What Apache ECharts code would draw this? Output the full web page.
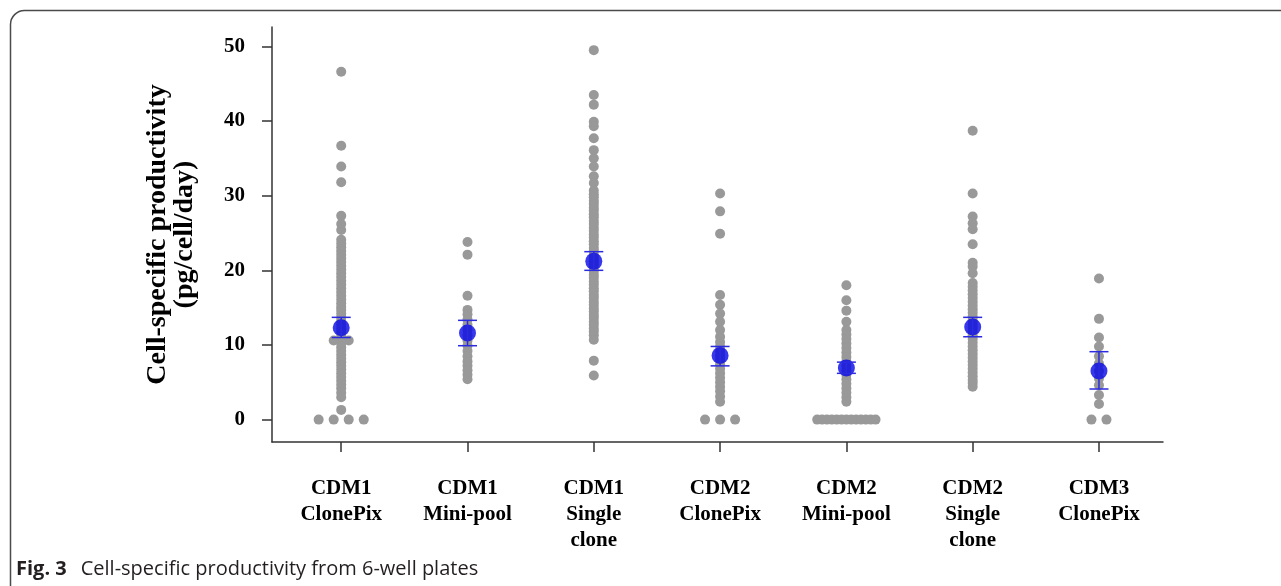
<!DOCTYPE html>
<html>
<head>
<meta charset="utf-8">
<script src="https://cdn.jsdelivr.net/npm/echarts@6/dist/echarts.min.js"></script>
<style>
html,body{margin:0;padding:0;background:#fff;}
#chart{width:1281px;height:586px;}
</style>
</head>
<body>
<div id="chart"></div>
<script>
// ---- data ----
const categories = ['CDM1\nClonePix','CDM1\nMini-pool','CDM1\nSingle\nclone','CDM2\nClonePix','CDM2\nMini-pool','CDM2\nSingle\nclone','CDM3\nClonePix'];
const yTicks = [0,10,20,30,40,50];

const cdm1ClonePix = [46.6,36.7,33.9,31.8,27.3,26.2,25.4,24.1,23.6,23.1,22.6,22.1,21.6,21.1,20.6,20.1,19.6,19.1,18.6,18.1,17.6,17.1,16.6,16.1,15.6,15.1,14.7,14.2,13.7,13.2,12.7,12.2,11.7,11.2,10.6,10.6,10.2,9.7,9.2,8.7,8.2,7.7,7.2,6.7,6.2,5.7,5.2,4.7,4.2,3.6,3.0,1.3,0,0,0,0];
const cdm1MiniPool = [23.8,22.1,16.6,14.7,14.1,13.4,12.7,12.0,11.3,10.6,9.9,9.2,8.5,7.8,7.2,6.6,6.0,5.4];
const cdm1Single = [49.5,43.5,42.2,39.9,39.3,37.7,36.1,35.0,33.9,32.6,31.7,30.7,30.2,29.8,29.3,28.9,28.4,28.0,27.5,27.1,26.6,26.2,25.7,25.3,24.8,24.4,23.9,23.5,23.0,22.6,22.1,21.7,21.2,20.8,20.3,19.9,19.4,19.0,18.5,18.1,17.6,17.2,16.7,16.3,15.8,15.4,14.9,14.5,14.0,13.6,13.1,12.7,12.2,11.8,11.3,10.7,7.9,5.9];
const cdm2ClonePix = [30.3,27.9,24.9,16.7,15.4,14.2,13.1,12.0,11.1,10.4,9.8,9.2,8.6,8.0,7.4,6.8,6.2,5.6,5.0,4.4,3.8,3.1,2.4,0,0,0];
const cdm2MiniPool = [18.0,16.0,14.6,13.1,12.0,11.4,10.8,10.2,9.6,9.0,8.4,7.8,7.2,6.6,6.0,5.4,4.8,4.2,3.6,3.0,2.4,0,0,0,0,0,0,0,0,0,0,0,0,0];
const cdm2Single = [38.7,30.3,27.2,26.3,25.5,23.5,21.0,20.5,19.6,18.3,17.8,17.3,16.8,16.3,15.8,15.3,14.8,14.3,13.8,13.3,12.8,12.3,11.8,11.3,10.8,10.3,9.8,9.3,8.8,8.3,7.8,7.3,6.8,6.3,5.8,5.3,4.9,4.4];
const cdm3ClonePix = [18.9,13.5,11.0,9.8,8.5,7.5,6.5,5.5,4.6,3.3,2.1,0,0];

const means = [12.3,11.6,21.2,8.6,6.9,12.4,6.5];
const upper = [13.7,13.3,22.5,9.8,7.7,13.7,9.1];
const lower = [11.0,9.9,20.0,7.2,6.2,11.1,4.1];

// ---- beeswarm spreading of identical values ----
const groups = [cdm1ClonePix,cdm1MiniPool,cdm1Single,cdm2ClonePix,cdm2MiniPool,cdm2Single,cdm3ClonePix];
const points = [];
groups.forEach((vals, gi) => {
  const counts = {};
  vals.forEach(v => { counts[v] = (counts[v] || 0) + 1; });
  const seen = {};
  vals.forEach(v => {
    const n = counts[v];
    const k = seen[v] || 0; seen[v] = k + 1;
    let off = 0;
    if (n > 1) {
      const step = Math.min(0.119, 0.462 / (n - 1));
      off = (k - (n - 1) / 2) * step;
    }
    points.push([gi + off, v]);
  });
});
const meanPts = means.map((m, i) => [i, m]);
const errData = means.map((m, i) => [i, lower[i], upper[i]]);

const chart = echarts.init(document.getElementById('chart'));
const serif = '"Liberation Serif", "Times New Roman", serif';
const sans = '"Open Sans", "Noto Sans", sans-serif';
chart.setOption({
  backgroundColor: '#ffffff',
  animation: false,
  title: {
    left: 11, top: 554,
    text: '{b|Fig. 3}{n|Cell-specific productivity from 6-well plates}',
    textStyle: {
      rich: {
        b: {fontFamily: sans, fontWeight: 'bold', fontSize: 20, color: '#231f20', padding: [0, 14, 0, 0]},
        n: {fontFamily: sans, fontWeight: 'normal', fontSize: 20, color: '#231f20'}
      }
    }
  },
  graphic: [{
    type: 'rect', silent: true, z: -1,
    shape: {x: 10.5, y: 10.5, width: 1400, height: 800, r: 14},
    style: {fill: 'none', stroke: '#4a4a4a', lineWidth: 1.5}
  }],
  grid: {left: 272, right: 118, top: 27, bottom: 144},
  xAxis: {
    type: 'value', min: -0.548, max: 6.507,
    splitLine: {show: false},
    axisLine: {show: true, onZero: false, lineStyle: {color: '#333', width: 1.5}},
    axisTick: {show: true, customValues: [0,1,2,3,4,5,6], length: 10, lineStyle: {color: '#333', width: 1.5}},
    axisLabel: {
      customValues: [0,1,2,3,4,5,6],
      formatter: v => categories[Math.round(v)],
      margin: 34, color: '#000', fontFamily: serif, fontWeight: 'bold', fontSize: 21, lineHeight: 26
    }
  },
  yAxis: {
    type: 'value', min: -3, max: 52.6,
    name: 'Cell-specific productivity\n(pg/cell/day)',
    nameLocation: 'middle', nameGap: 74,
    nameTextStyle: {fontFamily: serif, fontWeight: 'bold', fontSize: 28, lineHeight: 27, color: '#000'},
    splitLine: {show: false},
    axisLine: {show: true, onZero: false, lineStyle: {color: '#333', width: 1.5}},
    axisTick: {show: true, customValues: yTicks, length: 10, lineStyle: {color: '#333', width: 1.5}},
    axisLabel: {customValues: yTicks, margin: 27, color: '#000', fontFamily: serif, fontWeight: 'bold', fontSize: 21}
  },
  series: [
    {
      type: 'scatter', data: points, symbol: 'circle', symbolSize: 10,
      itemStyle: {color: '#999999', opacity: 1}, z: 2
    },
    {
      type: 'scatter', data: meanPts, symbol: 'circle', symbolSize: 17,
      itemStyle: {color: '#0505e6'}, z: 3
    },
    {
      type: 'custom', data: errData, z: 4,
      renderItem: (params, api) => {
        const x = api.value(0);
        const lo = api.coord([x, api.value(1)]);
        const hi = api.coord([x, api.value(2)]);
        const hw = 9.5;
        const st = {stroke: '#2a2ae0', lineWidth: 1.5};
        return {type: 'group', children: [
          {type: 'line', shape: {x1: lo[0], y1: lo[1], x2: hi[0], y2: hi[1]}, style: st},
          {type: 'line', shape: {x1: lo[0]-hw, y1: lo[1], x2: lo[0]+hw, y2: lo[1]}, style: st},
          {type: 'line', shape: {x1: hi[0]-hw, y1: hi[1], x2: hi[0]+hw, y2: hi[1]}, style: st}
        ]};
      }
    }
  ]
});
</script>
</body>
</html>
